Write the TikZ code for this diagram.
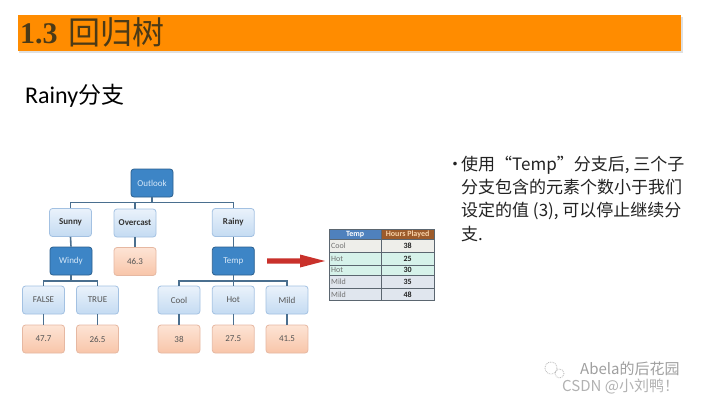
\documentclass[tikz,border=0pt]{standalone}
\usepackage{fontspec}
\setmainfont{Carlito}
\newfontfamily\cjk{Noto Sans CJK SC}
\newfontfamily\serifbold{Liberation Serif}
\definecolor{barorange}{HTML}{FF8C00}
\definecolor{titlebrown}{HTML}{4B3A17}
\definecolor{connc}{HTML}{4A6F8F}
\definecolor{darkf}{HTML}{3D85C6}
\definecolor{darkb}{HTML}{2B5F8E}
\definecolor{darkt}{HTML}{D6E8F8}
\definecolor{lighttop}{HTML}{EAF2FB}
\definecolor{lightbot}{HTML}{C4DBF2}
\definecolor{lightb}{HTML}{A3C1E2}
\definecolor{lightt}{HTML}{555555}
\definecolor{leaftop}{HTML}{FDE4D5}
\definecolor{leafbot}{HTML}{F8C5A9}
\definecolor{leafb}{HTML}{E6B8A2}
\definecolor{arrowred}{HTML}{C9312B}
\definecolor{tabblue}{HTML}{4F81BD}
\definecolor{tabbrown}{HTML}{9C5B2B}
\definecolor{tabhtext}{HTML}{F8D2A8}
\definecolor{rowcool}{HTML}{EEEEEA}
\definecolor{rowhot}{HTML}{D6F2EA}
\definecolor{rowmild}{HTML}{E0E6EE}
\definecolor{gridc}{HTML}{5B6670}
\definecolor{textdark}{HTML}{222222}
\tikzset{
  conn/.style={draw=connc, line width=1.6pt},
  boxbase/.style={rounded corners=3pt, minimum width=42pt, minimum height=28pt, inner sep=0pt, line width=0.8pt},
  darkbox/.style={boxbase, draw=darkb, fill=darkf, text=darkt, font=\fontsize{9}{10}\selectfont},
  lightbox/.style={boxbase, draw=lightb, top color=lighttop, bottom color=lightbot, text=lightt, font=\fontsize{9}{10}\selectfont},
  lightbold/.style={lightbox, text=black!80, font=\bfseries\fontsize{9}{10}\selectfont},
  leafbox/.style={boxbase, draw=leafb, top color=leaftop, bottom color=leafbot, text=lightt, font=\fontsize{9}{10}\selectfont},
  celltext/.style={inner sep=0pt, anchor=west, text=black!55, font=\fontsize{8}{9}\selectfont},
  cellval/.style={inner sep=0pt, text=textdark, font=\bfseries\fontsize{8}{9}\selectfont},
  bodytext/.style={inner sep=0pt, anchor=base west, text=textdark, font=\cjk\fontsize{17}{20}\selectfont},
  wmtext/.style={inner sep=0pt, anchor=base west, font=\cjk\fontsize{15}{16}\selectfont},
}
\begin{document}
\begin{tikzpicture}[x=1pt,y=-1pt]
\useasboundingbox (0,0) rectangle (720,405);
\fill[white] (0,0) rectangle (720,405);

% title bar
\fill[black!12] (19,17) rectangle (683,53);
\fill[barorange] (17.5,15) rectangle (681,51);
\node[inner sep=0pt, anchor=base west, text=titlebrown, font=\serifbold\bfseries\fontsize{30}{32}\selectfont] (t1) at (20,43.3) {1.3};
\node[inner sep=0pt, anchor=base west, text=titlebrown, font=\cjk\fontsize{32}{34}\selectfont] (t2) at (68,44) {回归树};

% subtitle
\node[inner sep=0pt, anchor=base west, text=black, font=\fontsize{24}{26}\selectfont] (sub) at (25,103.3) {Rainy{\cjk\fontsize{23}{26}\selectfont 分支}};

% tree nodes
\node[darkbox] (outlook) at (152,183) {Outlook};
\node[lightbold] (sunny) at (70.5,222.5) {Sunny};
\node[lightbold] (overcast) at (135,223) {Overcast};
\node[lightbold] (rainy) at (233.3,222.5) {Rainy};
\node[darkbox] (windy) at (71,261) {Windy};
\node[leafbox] (l463) at (135,261.5) {46.3};
\node[darkbox] (temp) at (233.3,261) {Temp};
\node[lightbox] (false) at (43.5,300) {FALSE};
\node[lightbox] (true) at (97.5,300) {TRUE};
\node[lightbox] (cool) at (179,300) {Cool};
\node[lightbox] (hot) at (233.3,300) {Hot};
\node[lightbox] (mild) at (287,300) {Mild};
\node[leafbox] (l477) at (43.5,339) {47.7};
\node[leafbox] (l265) at (97.5,339) {26.5};
\node[leafbox] (l38) at (179,339) {38};
\node[leafbox] (l275) at (233.3,339) {27.5};
\node[leafbox] (l415) at (287,339) {41.5};

% connectors
\coordinate (b1) at (152,202.3);
\coordinate (b2) at (71,280.7);
\coordinate (b3) at (233.3,280.7);
\draw[conn] (outlook.south) -- (b1);
\draw[conn] (sunny.north) |- (b1) -| (rainy.north);
\draw[conn] (overcast.north) -- (overcast.north |- b1);
\draw[conn] (sunny.south) -- (windy.north);
\draw[conn] (overcast.south) -- (l463.north);
\draw[conn] (rainy.south) -- (temp.north);
\draw[conn] (windy.south) -- (b2);
\draw[conn] (false.north) |- (b2) -| (true.north);
\draw[conn] (temp.south) -- (b3);
\draw[conn] (cool.north) |- (b3) -| (mild.north);
\draw[conn] (hot.north) -- (b3);
\draw[conn] (false.south) -- (l477.north);
\draw[conn] (true.south) -- (l265.north);
\draw[conn] (cool.south) -- (l38.north);
\draw[conn] (hot.south) -- (l275.north);
\draw[conn] (mild.south) -- (l415.north);

% red arrow
\fill[arrowred] (267,258.3) -- (300,258.3) -- (300,254.5) -- (325,261) -- (300,267.5) -- (300,263.7) -- (267,263.7) -- cycle;

% table
\fill[tabblue] (329.5,229) rectangle (381,239.5);
\fill[tabbrown] (381,229) rectangle (434.3,239.5);
\fill[rowcool] (329.5,239.5) rectangle (434.3,252.5);
\fill[rowhot] (329.5,252.5) rectangle (434.3,275);
\fill[rowmild] (329.5,275) rectangle (434.3,300.7);
\draw[gridc, line width=0.6pt] (329.5,239.5) -- (434.3,239.5)
  (329.5,252.5) -- (434.3,252.5) (329.5,265) -- (434.3,265)
  (329.5,275) -- (434.3,275) (329.5,288) -- (434.3,288)
  (381,229) -- (381,300.7);
\draw[gridc, line width=0.8pt] (329.5,229) rectangle (434.3,300.7);
\node[inner sep=0pt, text=white, font=\bfseries\fontsize{8}{9}\selectfont] (h1) at (355.2,234.3) {Temp};
\node[inner sep=0pt, text=tabhtext, font=\bfseries\fontsize{8}{9}\selectfont] (h2) at (407.6,234.3) {Hours Played};
\node[celltext] (c1) at (331,246) {Cool};
\node[celltext] (c2) at (331,258.8) {Hot};
\node[celltext] (c3) at (331,270) {Hot};
\node[celltext] (c4) at (331,281.5) {Mild};
\node[celltext] (c5) at (331,294.3) {Mild};
\node[cellval] (v1) at (407.6,246) {38};
\node[cellval] (v2) at (407.6,258.8) {25};
\node[cellval] (v3) at (407.6,270) {30};
\node[cellval] (v4) at (407.6,281.5) {35};
\node[cellval] (v5) at (407.6,294.3) {48};

% bullet text
\node[bodytext] (bul) at (446.5,170) {•};
\node[bodytext] (p1) at (461,170) {使用“Temp”分支后, 三个子};
\node[bodytext] (p2) at (461,193.5) {分支包含的元素个数小于我们};
\node[bodytext] (p3) at (461,216.5) {设定的值 (3), 可以停止继续分};
\node[bodytext] (p4) at (461,240) {支.};

% watermark
\draw[gray!55, densely dotted, line width=0.8pt] (551,368) circle (6);
\draw[gray!55, densely dotted, line width=0.8pt] (559.5,373.5) circle (4.5);
\node[wmtext, text=gray!75] (wm1) at (580,374.5) {Abela的后花园};
\node[wmtext, text=gray!60] (wm2) at (562,391.5) {CSDN @小刘鸭！};
\end{tikzpicture}
\end{document}
